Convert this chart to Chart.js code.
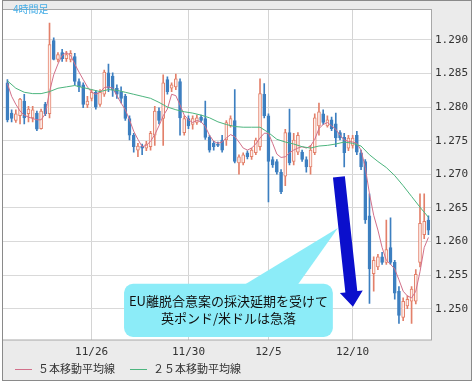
<!DOCTYPE html>
<html lang="ja">
<head>
<meta charset="utf-8">
<title>英ポンド/米ドル 4時間足</title>
<script src="https://cdn.jsdelivr.net/npm/chart.js@4.4.1/dist/chart.umd.min.js"></script>
<style>
html, body { margin: 0; padding: 0; background: #fff; }
#wrap { width: 475px; height: 383px; }
</style>
</head>
<body>
<div id="wrap"><canvas id="c" width="475" height="383"></canvas></div>
<script>
// GBP/USD, 4-hour candles, oldest first
const candleOpen = [
  1.2836,1.2791,1.2780,1.2787,1.2809,1.2790,1.2784,1.2791,1.2768,1.2804,
  1.2790,1.2899,1.2871,1.2881,1.2872,1.2871,1.2875,1.2838,1.2833,1.2803,
  1.2813,1.2822,1.2804,1.2819,1.2851,1.2846,1.2828,1.2823,1.2816,1.2783,
  1.2758,1.2736,1.2742,1.2739,1.2741,1.2758,1.2794,1.2783,1.2841,1.2828,
  1.2830,1.2838,1.2762,1.2783,1.2774,1.2777,1.2785,1.2783,1.2755,1.2746,
  1.2745,1.2751,1.2751,1.2772,1.2780,1.2717,1.2717,1.2732,1.2726,1.2732,
  1.2741,1.2819,1.2787,1.2722,1.2719,1.2703,1.2697,1.2762,1.2719,1.2733,
  1.2733,1.2722,1.2711,1.2732,1.2772,1.2790,1.2772,1.2781,1.2775,1.2762,
  1.2755,1.2739,1.2743,1.2758,1.2732,1.2719,1.2638,1.2552,1.2562,1.2577,
  1.2569,1.2591,1.2569,1.2526,1.2487,1.2504,1.2511,1.2511,1.2569,1.2610,
  1.2632
];
const candleHigh = [
  1.2841,1.2796,1.2796,1.2813,1.2819,1.2801,1.2801,1.2794,1.2797,1.2807,
  1.2925,1.2903,1.2881,1.2886,1.2883,1.2884,1.2880,1.2842,1.2836,1.2816,
  1.2826,1.2825,1.2826,1.2855,1.2864,1.2851,1.2833,1.2830,1.2819,1.2787,
  1.2761,1.2746,1.2745,1.2749,1.2764,1.2801,1.2799,1.2848,1.2845,1.2836,
  1.2849,1.2842,1.2787,1.2787,1.2787,1.2788,1.2788,1.2809,1.2758,1.2749,
  1.2748,1.2758,1.2780,1.2787,1.2826,1.2729,1.2732,1.2735,1.2739,1.2754,
  1.2842,1.2835,1.2790,1.2726,1.2722,1.2707,1.2767,1.2797,1.2761,1.2762,
  1.2736,1.2726,1.2743,1.2790,1.2806,1.2796,1.2787,1.2785,1.2791,1.2765,
  1.2761,1.2758,1.2758,1.2764,1.2736,1.2722,1.2671,1.2577,1.2581,1.2584,
  1.2632,1.2635,1.2572,1.2533,1.2516,1.2519,1.2533,1.2558,1.2671,1.2671,
  1.2638
];
const candleLow = [
  1.2778,1.2778,1.2777,1.2775,1.2775,1.2778,1.2778,1.2765,1.2767,1.2787,
  1.2784,1.2870,1.2867,1.2868,1.2868,1.2867,1.2833,1.2823,1.2799,1.2799,
  1.2809,1.2797,1.2801,1.2816,1.2823,1.2816,1.2813,1.2806,1.2780,1.2751,
  1.2733,1.2726,1.2729,1.2735,1.2736,1.2743,1.2775,1.2743,1.2819,1.2823,
  1.2826,1.2758,1.2758,1.2768,1.2767,1.2774,1.2777,1.2752,1.2733,1.2736,
  1.2741,1.2733,1.2743,1.2770,1.2717,1.2700,1.2714,1.2723,1.2722,1.2729,
  1.2736,1.2784,1.2659,1.2710,1.2700,1.2671,1.2683,1.2714,1.2714,1.2729,
  1.2719,1.2703,1.2700,1.2729,1.2758,1.2774,1.2770,1.2765,1.2741,1.2751,
  1.2711,1.2735,1.2739,1.2729,1.2707,1.2627,1.2508,1.2526,1.2558,1.2566,
  1.2566,1.2566,1.2514,1.2478,1.2482,1.2500,1.2478,1.2507,1.2562,1.2604,
  1.2610
];
const candleClose = [
  1.2781,1.2783,1.2790,1.2812,1.2784,1.2797,1.2796,1.2767,1.2794,1.2790,
  1.2893,1.2871,1.2878,1.2872,1.2878,1.2880,1.2838,1.2830,1.2804,1.2809,
  1.2822,1.2800,1.2822,1.2852,1.2828,1.2825,1.2819,1.2813,1.2783,1.2758,
  1.2741,1.2742,1.2739,1.2745,1.2761,1.2794,1.2780,1.2836,1.2823,1.2833,
  1.2842,1.2784,1.2783,1.2772,1.2783,1.2784,1.2780,1.2755,1.2736,1.2741,
  1.2743,1.2736,1.2777,1.2783,1.2719,1.2726,1.2729,1.2726,1.2736,1.2751,
  1.2820,1.2787,1.2719,1.2714,1.2703,1.2674,1.2762,1.2717,1.2751,1.2758,
  1.2722,1.2711,1.2736,1.2784,1.2793,1.2777,1.2781,1.2768,1.2754,1.2754,
  1.2732,1.2754,1.2754,1.2733,1.2711,1.2632,1.2559,1.2572,1.2577,1.2569,
  1.2588,1.2569,1.2523,1.2490,1.2511,1.2514,1.2529,1.2551,1.2627,1.2630,
  1.2617
];
// 5-bar moving average
const ma5 = [
  1.2835,1.2816,1.2804,1.2794,1.2788,1.2785,1.2783,1.2781,1.2781,1.2790,
  1.2823,1.2848,1.2864,1.2877,1.2881,1.2877,1.2864,1.2852,1.2841,1.2830,
  1.2822,1.2819,1.2822,1.2829,1.2830,1.2828,1.2817,1.2806,1.2796,1.2781,
  1.2764,1.2752,1.2741,1.2743,1.2749,1.2759,1.2772,1.2787,1.2797,1.2819,
  1.2817,1.2803,1.2788,1.2781,1.2777,1.2780,1.2778,1.2771,1.2758,1.2749,
  1.2746,1.2748,1.2754,1.2759,1.2756,1.2748,1.2739,1.2736,1.2739,1.2745,
  1.2754,1.2761,1.2761,1.2746,1.2730,1.2725,1.2726,1.2732,1.2736,1.2739,
  1.2741,1.2739,1.2742,1.2752,1.2768,1.2774,1.2777,1.2772,1.2767,1.2758,
  1.2751,1.2749,1.2748,1.2746,1.2736,1.2710,1.2671,1.2639,1.2617,1.2591,
  1.2572,1.2566,1.2559,1.2543,1.2526,1.2519,1.2516,1.2526,1.2555,1.2591,
  1.2606
];
// 25-bar moving average (every other bar)
const ma25 = [
  1.2839,null,1.2828,null,1.2822,null,1.2820,null,1.2820,null,
  1.2823,null,1.2828,null,1.2830,null,1.2832,null,1.2829,null,
  1.2826,null,1.2823,null,1.2826,null,1.2825,null,1.2822,null,
  1.2819,null,1.2816,null,1.2813,null,1.2807,null,1.2800,null,
  1.2796,null,1.2793,null,1.2791,null,1.2788,null,1.2784,null,
  1.2778,null,1.2774,null,1.2771,null,1.2770,null,1.2770,null,
  1.2770,null,1.2762,null,1.2752,null,1.2748,null,1.2745,null,
  1.2741,null,1.2739,null,1.2742,null,1.2743,null,1.2745,null,
  1.2748,null,1.2746,null,1.2742,null,1.2729,null,1.2719,null,
  1.2710,null,1.2698,null,1.2683,null,1.2667,null,1.2651,null,
  1.2636
];
const dateTickIndex = [20, 43, 62, 82];
const dateTickLabels = ['11/26', '11/30', '12/5', '12/10'];
const priceTicks = [1.250, 1.255, 1.260, 1.265, 1.270, 1.275, 1.280, 1.285, 1.290];
const seriesNames = ['５本移動平均線', '２５本移動平均線'];
const periodLabel = '4時間足';
const noteLines = ['EU離脱合意案の採決延期を受けて', '英ポンド/米ドルは急落'];

// axis ranges
const X_MIN = -1.05, X_MAX = 100.85;
const Y_MIN = 1.24534, Y_MAX = 1.29450;

// colours
const UP_LINE = '#e3806a';
const UP_FILL = '#fdf1ee';
const DOWN = '#3d7fc0';
const MA5_COLOR = '#d2708a';
const MA25_COLOR = '#4cb57e';

const isUp = candleClose.map((c, i) => c >= candleOpen[i]);
const candleColor = isUp.map(u => (u ? UP_LINE : DOWN));

// call-out anchors in data space (bar index, price)
const noteBox = { x0: 27.7, x1: 77.3, top: 1.2537, bottom: 1.2458 };
const noteTail = [[56.4, 1.2536], [69.0, 1.2536], [78.5, 1.2620]];
const noteTextY = [1.25114, 1.24853];
const arrowFrom = [78.74, 1.2696];
const arrowTo = [82.07, 1.2503];

const JP = '"Noto Sans CJK JP", "Noto Sans", sans-serif';
const MONO = '"DejaVu Sans Mono", monospace';

const decor = {
  id: 'decor',
  beforeDraw(chart) {
    const { ctx, chartArea: a, width, height } = chart;
    ctx.save();
    ctx.fillStyle = '#ffffff';
    ctx.fillRect(0, 0, width, height);
    ctx.fillStyle = '#ebebeb';
    ctx.fillRect(2, 0, 470, 381);
    ctx.fillStyle = '#ffffff';
    ctx.fillRect(a.left, a.top, a.right - a.left, a.bottom - a.top);
    ctx.restore();
  },
  afterDraw(chart) {
    const { ctx, chartArea: a } = chart;
    const xs = chart.scales.x, ys = chart.scales.y;
    const px = (i, v) => [xs.getPixelForValue(i), ys.getPixelForValue(v)];
    ctx.save();

    // frames
    ctx.lineWidth = 1;
    ctx.strokeStyle = '#a8a8a8';
    ctx.strokeRect(Math.round(a.left) - 0.5, Math.round(a.top) - 0.5,
      Math.round(a.right - a.left), Math.round(a.bottom - a.top) + 0.5);
    ctx.strokeStyle = '#8a8a8a';
    ctx.strokeRect(2.5, 0.5, 469, 380);

    // period label
    ctx.fillStyle = '#45ade6';
    ctx.font = '10px ' + JP;
    ctx.textAlign = 'left';
    ctx.textBaseline = 'middle';
    ctx.fillText(periodLabel, 13, 9);

    // call-out box with pointer
    const [bx0, by0] = px(noteBox.x0, noteBox.top);
    const [bx1, by1] = px(noteBox.x1, noteBox.bottom);
    ctx.fillStyle = '#8cecf8';
    ctx.beginPath();
    ctx.roundRect(bx0, by0, bx1 - bx0, by1 - by0, 9);
    ctx.fill();
    ctx.beginPath();
    noteTail.forEach(([i, v], k) => {
      const [x, y] = px(i, v);
      if (k === 0) ctx.moveTo(x, y); else ctx.lineTo(x, y);
    });
    ctx.closePath();
    ctx.fill();

    ctx.fillStyle = '#111111';
    ctx.font = '13px ' + JP;
    ctx.textAlign = 'center';
    ctx.textBaseline = 'middle';
    const cx = (bx0 + bx1) / 2;
    noteLines.forEach((t, k) => ctx.fillText(t, cx, ys.getPixelForValue(noteTextY[k])));

    // arrow
    const [tx, ty] = px(arrowFrom[0], arrowFrom[1]);
    const [hx, hy] = px(arrowTo[0], arrowTo[1]);
    const len = Math.hypot(hx - tx, hy - ty);
    const dx = (hx - tx) / len, dy = (hy - ty) / len;
    const nx = -dy, ny = dx;
    const sw = 6, hw = 11.5, hl = 15;
    const kx = hx - dx * hl, ky = hy - dy * hl;
    ctx.fillStyle = '#0b0fcc';
    ctx.beginPath();
    ctx.moveTo(tx + nx * sw, ty + ny * sw);
    ctx.lineTo(kx + nx * sw, ky + ny * sw);
    ctx.lineTo(kx + nx * hw, ky + ny * hw);
    ctx.lineTo(hx, hy);
    ctx.lineTo(kx - nx * hw, ky - ny * hw);
    ctx.lineTo(kx - nx * sw, ky - ny * sw);
    ctx.lineTo(tx - nx * sw, ty - ny * sw);
    ctx.closePath();
    ctx.fill();

    // legend for the two averages
    ctx.font = '11px ' + JP;
    ctx.textAlign = 'left';
    ctx.textBaseline = 'middle';
    let lx = 15;
    const ly = 369;
    [2, 3].forEach((di, k) => {
      const ds = chart.data.datasets[di];
      ctx.strokeStyle = ds.borderColor;
      ctx.lineWidth = 1;
      ctx.beginPath();
      ctx.moveTo(lx, ly + 0.5);
      ctx.lineTo(lx + 17, ly + 0.5);
      ctx.stroke();
      ctx.fillStyle = '#333333';
      ctx.fillText(ds.label, lx + 23, ly);
      lx += 23 + ctx.measureText(ds.label).width + 15;
    });
    ctx.restore();
  }
};

new Chart(document.getElementById('c'), {
  type: 'bar',
  data: {
    datasets: [
      {
        label: 'wick',
        data: candleLow.map((l, i) => ({ x: i, y: [l, candleHigh[i]] })),
        backgroundColor: candleColor,
        borderWidth: 0,
        barThickness: 1,
        grouped: false,
        order: 3
      },
      {
        label: 'body',
        data: candleOpen.map((o, i) => ({ x: i, y: [o, candleClose[i]] })),
        backgroundColor: isUp.map(u => (u ? UP_FILL : DOWN)),
        borderColor: candleColor,
        borderWidth: 1,
        borderSkipped: false,
        barThickness: 3,
        minBarLength: 1,
        grouped: false,
        order: 2
      },
      {
        type: 'line',
        label: seriesNames[0],
        data: ma5.map((v, i) => ({ x: i, y: v })),
        borderColor: MA5_COLOR,
        borderWidth: 1,
        pointRadius: 0,
        tension: 0,
        order: 1
      },
      {
        type: 'line',
        label: seriesNames[1],
        data: ma25.map((v, i) => ({ x: i, y: v })),
        borderColor: MA25_COLOR,
        borderWidth: 1,
        pointRadius: 0,
        tension: 0,
        spanGaps: true,
        order: 0
      }
    ]
  },
  options: {
    responsive: false,
    devicePixelRatio: 1,
    animation: false,
    layout: { padding: { left: 3, top: 1, right: 3, bottom: 23 } },
    plugins: {
      legend: { display: false },
      tooltip: { enabled: false }
    },
    scales: {
      x: {
        type: 'linear',
        min: X_MIN,
        max: X_MAX,
        offset: false,
        grid: { color: '#d4d4d4', drawTicks: false, offset: false },
        border: { display: false },
        ticks: {
          font: { family: MONO, size: 11 },
          color: '#333333',
          padding: 6,
          maxRotation: 0,
          autoSkip: false,
          callback: (v) => {
            const k = dateTickIndex.indexOf(v);
            return k >= 0 ? dateTickLabels[k] : '';
          }
        },
        afterBuildTicks: (s) => { s.ticks = dateTickIndex.map(v => ({ value: v })); },
        afterFit: (s) => { s.height = 20; }
      },
      y: {
        type: 'linear',
        position: 'right',
        min: Y_MIN,
        max: Y_MAX,
        beginAtZero: false,
        grid: { color: '#d9d9d9', drawTicks: false },
        border: { display: false },
        ticks: {
          font: { family: MONO, size: 11 },
          color: '#333333',
          padding: 3,
          callback: (v) => Number(v).toFixed(3)
        },
        afterBuildTicks: (s) => { s.ticks = priceTicks.map(v => ({ value: v })); },
        afterFit: (s) => { s.width = 40; }
      }
    }
  },
  plugins: [decor]
});
</script>
</body>
</html>
